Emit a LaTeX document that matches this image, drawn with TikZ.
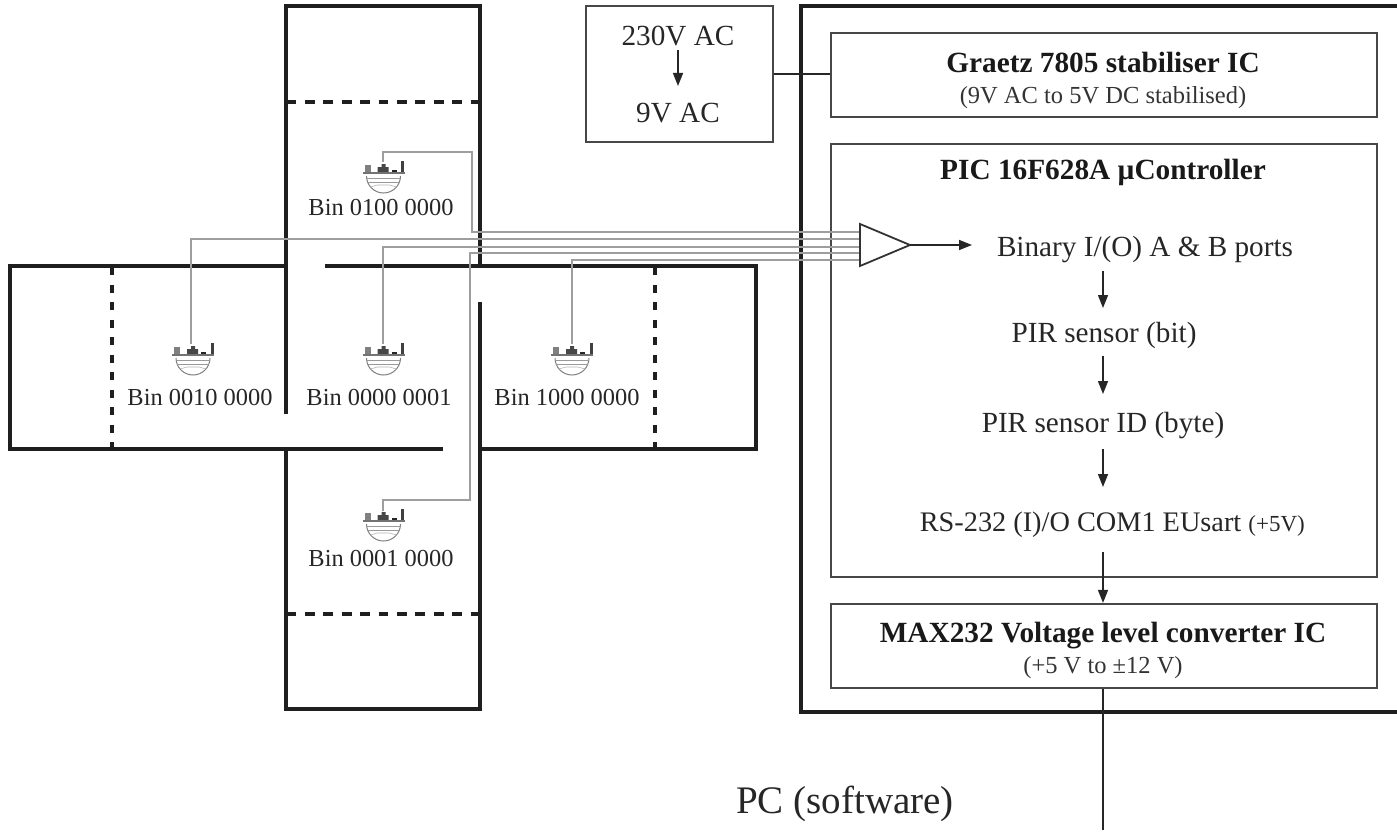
\documentclass[tikz,border=0pt]{standalone}
\usepackage{fontspec}
\setmainfont{Liberation Serif}
\usetikzlibrary{arrows.meta}
\newcommand{\fs}[1]{\fontsize{#1}{#1}\selectfont}
\tikzset{
  x=1pt,y=-1pt,
  wall/.style={line width=3.4pt,draw=black!88,line cap=butt,line join=miter},
  dashwall/.style={line width=3.4pt,draw=black!88,dash pattern=on 8pt off 9.5pt},
  dashfloor/.style={line width=3.4pt,draw=black!88,dash pattern=on 9.7pt off 8.7pt},
  wire/.style={line width=1.4pt,draw=black!38,line join=miter},
  boxed/.style={draw=black!72,line width=2.2pt,inner sep=0pt,align=center},
  link/.style={line width=1.6pt,draw=black!85},
  flow/.style={line width=1.5pt,draw=black!85,-{Triangle[length=13pt,width=10pt]}},
  label/.style={inner sep=0pt,font=\fs{29.2},text=black!85},
  binlabel/.style={inner sep=0pt,font=\fs{24.4},text=black!85},
  bold/.style={inner sep=0pt,font=\fs{29.3}\bfseries,text=black!90},
  small/.style={inner sep=0pt,font=\fs{24.5},text=black!80},
  sensor/.pic={
    \fill[black!50] (-19,10) rectangle (-13,3);
    \fill[black!72] (-6,10) -- (-6,5) -- (-2,5) -- (-2,2) -- (2,2) -- (2,5) -- (5,5) -- (5,10) -- cycle;
    \fill[black!85] (8,10) rectangle (13,8);
    \fill[black!75] (17.5,10) rectangle (20.5,-1);
    \draw[black!55,line width=1.8pt] (-21,10.8) -- (21,10.8);
    \draw[black!50,line width=1pt] (-17,14) arc[start angle=180,end angle=0,radius=17];
    \draw[black!40,line width=.8pt] (-16.5,16) -- (16.5,16) (-16,20) -- (16,20);
    \draw[black!30,line width=.6pt] (-13,25) -- (-6,23) -- (6,23) -- (13,25);
  }
}
\begin{document}
\begin{tikzpicture}
\useasboundingbox (0,0) rectangle (1397,832);
% rooms
\draw[wall] (286,414) -- (286,6) -- (480,6) -- (480,266);
\draw[wall] (286,266) -- (10,266) -- (10,449) -- (443,449);
\draw[wall] (325,266) -- (756,266) -- (756,449) -- (480,449);
\draw[wall] (480,302) -- (480,709) -- (286,709) -- (286,449);
\draw[dashfloor] (286.6,102) -- (480,102);
\draw[dashfloor] (286.6,614) -- (480,614);
\draw[dashwall] (112,267) -- (112,449);
\draw[dashwall] (655,267) -- (655,449);
% main enclosure
\draw[wall] (1397,6) -- (801,6) -- (801,712) -- (1397,712);
% boxes
\node[boxed,minimum width=187pt,minimum height=136pt] (trafo) at (679.5,74) {};
\node[boxed,minimum width=546pt,minimum height=84pt] (graetz) at (1104,75) {};
\node[boxed,minimum width=546pt,minimum height=433pt] (pic) at (1104,360.5) {};
\node[boxed,minimum width=546pt,minimum height=84pt] (max) at (1104,646) {};
% texts
\node[label] (t230) at (678,36) {230V AC};
\node[label] (t9) at (678,113) {9V AC};
\node[bold] (tg) at (1103,62) {Graetz 7805 stabiliser IC};
\node[small] (tgs) at (1103,98) {(9V AC to 5V DC stabilised)};
\node[bold] (tp) at (1103,172) {PIC 16F628A µController};
\node[bold] (tm) at (1103,636) {MAX232 Voltage level converter IC};
\node[small] (tms) at (1103,668) {(+5 V to ±12 V)};
\node[label] (binary) at (1145,250) {Binary I/(O) A \& B ports};
\node[label] (bit) at (1104,335) {PIR sensor (bit)};
\node[label] (byte) at (1103,426) {PIR sensor ID (byte)};
\node[inner sep=0pt,anchor=east,font=\fs{28.3},text=black!85] (rs) at (1305,525) {RS-232 (I)/O COM1 EUsart {\fs{23}(+5V)}};
\node[inner sep=0pt,font=\fs{39},text=black!85] (pc) at (845,804) {PC (software)};
\node[binlabel] (b1) at (381,208) {Bin 0100 0000};
\node[binlabel] (b2) at (200,398) {Bin 0010 0000};
\node[binlabel] (b3) at (379,398) {Bin 0000 0001};
\node[binlabel] (b4) at (567,398) {Bin 1000 0000};
\node[binlabel] (b5) at (381,559) {Bin 0001 0000};
% sensors
\pic at (383.5,162) {sensor};
\pic at (193,344) {sensor};
\pic at (383.5,344) {sensor};
\pic at (572,344) {sensor};
\pic at (383.5,510) {sensor};
% wire anchors
\coordinate (s1) at (383,162);
\coordinate (s2) at (191,344);
\coordinate (s3) at (383,344);
\coordinate (s4) at (572,344);
\coordinate (s5) at (383,511);
\coordinate (i1) at (860,232);
\coordinate (i2) at (860,239);
\coordinate (i3) at (860,247);
\coordinate (i4) at (860,253);
\coordinate (i5) at (860,260);
\draw[wire] (s1) -- (383,152) -- (472,152) -- (472,232) -- (i1);
\draw[wire] (s2) -- (191,239) -- (i2);
\draw[wire] (s3) -- (383,247) -- (i3);
\draw[wire] (s5) -- (383,500) -- (470,500) -- (470,253) -- (i4);
\draw[wire] (s4) -- (572,260) -- (i5);
% amplifier
\coordinate (ta) at (860,224);
\coordinate (tb) at (860,266);
\coordinate (tc) at (910,245);
\draw[fill=white,draw=black!80,line width=1.8pt,line join=miter] (ta) -- (tc) -- (tb) -- cycle;
\coordinate (tip) at (972,245);
\draw[flow] (tc) -- (tip);
% flows
\draw[link] (trafo.east) -- (trafo.east -| graetz.west);
\coordinate (a1) at (678,50);
\coordinate (a2) at (678,86);
\draw[flow] (a1) -- (a2);
\coordinate (f1) at (1103,271);
\coordinate (f2) at (1103,308);
\coordinate (f3) at (1103,356);
\coordinate (f4) at (1103,394);
\coordinate (f5) at (1103,449);
\coordinate (f6) at (1103,487);
\coordinate (f7) at (1103,552);
\draw[flow] (f1) -- (f2);
\draw[flow] (f3) -- (f4);
\draw[flow] (f5) -- (f6);
\draw[flow] (f7) -- (f7 |- max.north);
\coordinate (pcend) at (1103,830);
\draw[link] (pcend |- max.south) -- (pcend);
\end{tikzpicture}
\end{document}
